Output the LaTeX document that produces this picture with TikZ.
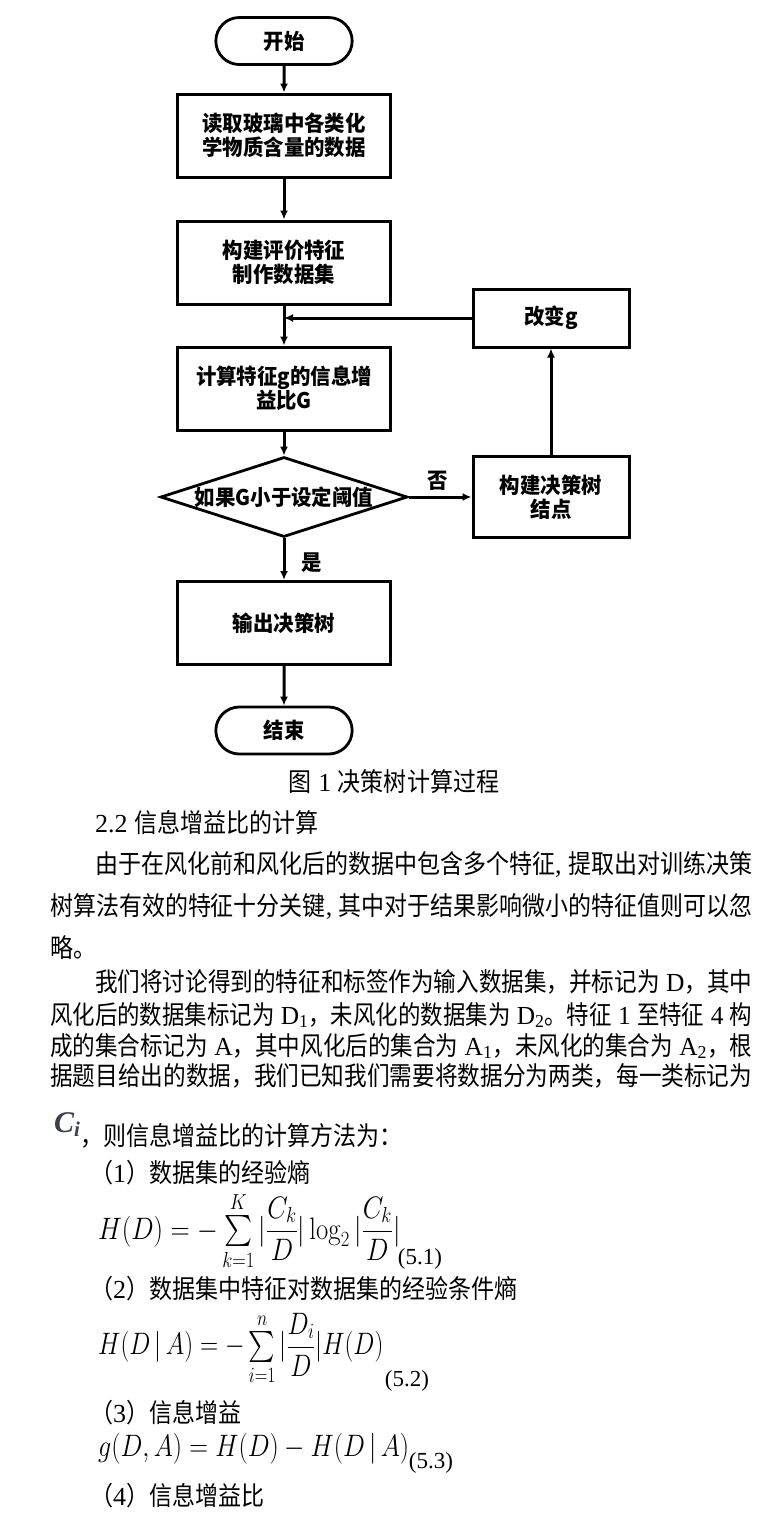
\RequirePackage{fix-cm}
\documentclass[tikz,border=0pt]{standalone}
\usepackage[no-math]{fontspec}
\usepackage{graphicx}
\DeclareFontFamily{OMX}{cmex}{}
\DeclareFontShape{OMX}{cmex}{m}{n}{<->cmex10}{}
\setmainfont{Liberation Serif}
\newfontfamily\cjk{Noto Sans CJK SC}[FakeStretch=0.885]
\newfontfamily\cjkflow{Noto Sans CJK SC}[FakeStretch=0.95]
\usetikzlibrary{shapes.geometric,shapes.misc,arrows.meta}
\definecolor{cimg}{RGB}{58,64,80}
\newcommand\flowfont{\cjkflow\bfseries\fontsize{21.5}{24}\selectfont}
\newcommand\bodyfont{\cjk\fontsize{26}{30}\selectfont}
\newcommand\rmtxt[1]{{\rmfamily #1}}
\newcommand\squeeze[2][0.82]{\scalebox{#1}[1]{#2}}
\newcommand\fitline[2]{\resizebox{#1}{\height}{#2}}
\newcommand\tsum{\mathop{\textstyle\sum}\limits}

\begin{document}
\begin{tikzpicture}[x=1pt,y=-1pt,
	term/.style={ rounded rectangle, draw, line width=2.8pt, minimum width=143pt, minimum height=47pt, font=\flowfont },
	proc/.style={ rectangle, draw, line width=3pt, minimum width=213pt, minimum height=83pt, align=center, font=\flowfont },
	side/.style={ rectangle, draw, line width=3pt, minimum width=156pt, align=center, font=\flowfont },
	decide/.style={ diamond, draw, line width=2.8pt, aspect=3.1, minimum width=247pt, minimum height=80pt, inner sep=0pt, font=\flowfont },
	flow/.style={ draw, line width=3pt, -{Latex[length=9pt,width=8pt]} },
	lab/.style={ font=\flowfont, inner sep=0pt },
	txt/.style={ anchor=base west, inner sep=0pt, font=\bodyfont },
	eq/.style={ anchor=west, inner sep=0pt, font=\fontsize{31}{36}\selectfont },
	tag/.style={ inner sep=0pt, font=\fontsize{23}{26}\selectfont }
]

\path[use as bounding box, fill=white] (0,0) rectangle (769,1521);

\node at (284,41) (start) [term] {开始};
\node at (284,135.5) (read) [proc] {读取玻璃中各类化\\学物质含量的数据};
\node at (284,262.5) (build) [proc] {构建评价特征\\制作数据集};
\node at (284,388.5) (calc) [proc] {计算特征g的信息增\\益比G};
\node at (284,497) (judge) [decide] {如果G小于设定阈值};
\node at (284,623) (output) [proc] {输出决策树};
\node at (284,730.5) (stop) [term] {结束};
\node at (551,318) (change) [side, minimum height=58pt] {改变g};
\node at (551,497) (tree) [side, minimum height=81pt] {构建决策树\\结点};
\coordinate (merge) at (284,318);
\node at (438,481) (no) [lab] {否};
\node at (312,563) (yes) [lab] {是};
\foreach \a/\b in {start/read,read/build,build/calc,calc/judge,judge/output,output/stop,judge/tree,tree/change} \draw[flow] (\a) -- (\b);
\draw[flow] (change) -- (merge);

\node at (394,791) (cap) [txt, anchor=base] {图\rmtxt{ 1 }决策树计算过程};
\node at (95,832) (sec) [txt] {\rmtxt{2.2 }信息增益比的计算};
\node at (95,873) (p1a) [txt] {\fitline{657pt}{由于在风化前和风化后的数据中包含多个特征\rmtxt{, }提取出对训练决策}};
\node at (50,915) (p1b) [txt] {\fitline{702pt}{树算法有效的特征十分关键\rmtxt{, }其中对于结果影响微小的特征值则可以忽}};
\node at (50,957) (p1c) [txt] {略。};
\node at (95,991) (p2a) [txt] {\fitline{657pt}{我们将讨论得到的特征和标签作为输入数据集，并标记为\rmtxt{ D}，其中}};
\node at (50,1024) (p2b) [txt] {\fitline{702pt}{风化后的数据集标记为\rmtxt{ D\textsubscript{1}}，未风化的数据集为\rmtxt{ D\textsubscript{2}}。特征\rmtxt{ 1 }至特征\rmtxt{ 4 }构}};
\node at (50,1055) (p2c) [txt] {\fitline{702pt}{成的集合标记为\rmtxt{ A}，其中风化后的集合为\rmtxt{ A\textsubscript{1}}，未风化的集合为\rmtxt{ A\textsubscript{2}}，根}};
\node at (50,1085) (p2d) [txt] {\fitline{702pt}{据题目给出的数据，我们已知我们需要将数据分为两类，每一类标记为}};
\node at (54,1132) (ci) [txt, text=cimg, font=\fontsize{30}{34}\selectfont] {\rmtxt{\bfseries\itshape C\textsubscript{i}}};
\node at (80,1145) (p3) [txt] {，则信息增益比的计算方法为：};

\node at (90,1182) (s1) [txt] {（\rmtxt{1}）数据集的经验熵};
\node at (98,1231) (f1) [eq] {\squeeze[0.86]{$\displaystyle H\bigl(D\bigr)=-\tsum_{k=1}^{K}|\frac{C_k}{D}|\log_2|\frac{C_k}{D}|$}};
\node at (420,1259) (t1) [tag] {(5.1)};
\node at (90,1298) (s2) [txt] {（\rmtxt{2}）数据集中特征对数据集的经验条件熵};
\node at (98,1349) (f2) [eq] {\squeeze[0.81]{$\displaystyle H\bigl(D\,|\,A\bigr)=-\tsum_{i=1}^{n}|\frac{D_i}{D}|H\bigl(D\bigr)$}};
\node at (407,1381) (t2) [tag] {(5.2)};
\node at (90,1422) (s3) [txt] {（\rmtxt{3}）信息增益};
\node at (98,1449) (f3) [eq] {\squeeze[0.84]{$g\bigl(D,A\bigr)=H\bigl(D\bigr)-H\bigl(D\,|\,A\bigr)$}};
\node at (431,1463) (t3) [tag] {(5.3)};
\node at (90,1505) (s4) [txt] {（\rmtxt{4}）信息增益比};

\end{tikzpicture}
\end{document}
